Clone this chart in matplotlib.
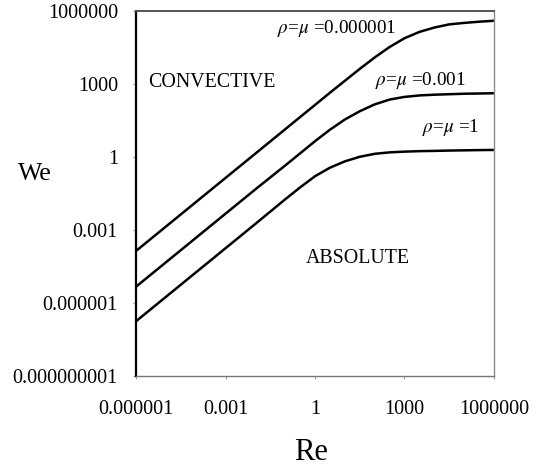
import matplotlib
matplotlib.use("Agg")
import matplotlib.pyplot as plt
from matplotlib.ticker import FixedLocator, NullLocator

plt.rcParams['font.family'] = ['Liberation Serif', 'DejaVu Serif']
plt.rcParams['mathtext.fontset'] = 'stix'

# Reynolds number grid
re_values = [1e-6, 1e-4, 1e-2, 0.1, 0.316, 1, 3.16, 10, 31.6, 100, 316, 1000,
             3162, 1e4, 31623, 1e5, 316228, 1e6]

# Weber number boundaries for each density/viscosity ratio
we_rho_1 = [1.78e-7, 1.78e-5, 1.78e-3, 0.0182, 0.0562, 0.162, 0.363, 0.661,
            1.02, 1.35, 1.55, 1.66, 1.74, 1.78, 1.84, 1.88, 1.92, 1.95]
we_rho_1e3 = [4.68e-6, 4.68e-4, 0.0468, 0.447, 1.41, 4.47, 13.2, 34.7, 75.9,
              145, 229, 295, 339, 363, 380, 398, 407, 417]
we_rho_1e6 = [1.38e-4, 0.0138, 1.38, 13.8, 43.7, 138, 437, 1350, 4170, 12300,
              33100, 75900, 138000, 209000, 282000, 324000, 363000, 398000]

curve_labels = ["$\\rho$=$\\mu$ =0.000001", "$\\rho$=$\\mu$ =0.001", "$\\rho$=$\\mu$ =1"]

x_ticks = [1e-6, 1e-3, 1, 1e3, 1e6]
x_tick_labels = ["0.000001", "0.001", "1", "1000", "1000000"]
y_ticks = [1e-9, 1e-6, 1e-3, 1, 1e3, 1e6]
y_tick_labels = ["0.000000001", "0.000001", "0.001", "1", "1000", "1000000"]

fig = plt.figure(figsize=(5.42, 4.70), dpi=100)
ax = fig.add_axes([0.251, 0.2, 0.6604, 0.7766])

for we in (we_rho_1, we_rho_1e3, we_rho_1e6):
    ax.plot(re_values, we, color='black', lw=1.8, solid_capstyle='butt',
            solid_joinstyle='round')

ax.set_xscale('log')
ax.set_yscale('log')
ax.set_xlim(1e-6, 1e6)
ax.set_ylim(1e-9, 1e6)

ax.xaxis.set_major_locator(FixedLocator(x_ticks))
ax.yaxis.set_major_locator(FixedLocator(y_ticks))
ax.xaxis.set_minor_locator(NullLocator())
ax.yaxis.set_minor_locator(NullLocator())
ax.set_xticklabels(x_tick_labels, fontsize=14.5)
ax.set_yticklabels(y_tick_labels, fontsize=14.5)
ax.tick_params(axis='x', direction='out', length=2, width=0.8, color='#999999', pad=15)
ax.tick_params(axis='y', direction='out', length=2, width=0.8, color='#999999', pad=11)

ax.spines['left'].set_color('black')
ax.spines['left'].set_linewidth(1.6)
ax.spines['top'].set_color('#555555')
ax.spines['top'].set_linewidth(1.4)
ax.spines['right'].set_color('#888888')
ax.spines['right'].set_linewidth(1.0)
ax.spines['bottom'].set_color('#777777')
ax.spines['bottom'].set_linewidth(1.0)

ax.text(-0.282, 0.553, "We", transform=ax.transAxes, fontsize=18.5,
        ha='center', va='center')
ax.text(0.49, -0.21, "Re", transform=ax.transAxes, fontsize=22,
        ha='center', va='center')

ax.text(0.034, 0.805, "CONVECTIVE", transform=ax.transAxes, fontsize=14.3,
        ha='left', va='center')
ax.text(0.473, 0.321, "ABSOLUTE", transform=ax.transAxes, fontsize=14.3,
        ha='left', va='center')

ax.text(0.394, 0.952, curve_labels[0], transform=ax.transAxes, fontsize=13.8,
        ha='left', va='center')
ax.text(0.668, 0.81, curve_labels[1], transform=ax.transAxes, fontsize=13.8,
        ha='left', va='center')
ax.text(0.80, 0.682, curve_labels[2], transform=ax.transAxes, fontsize=13.8,
        ha='left', va='center')

fig.savefig("out.png", dpi=100)
